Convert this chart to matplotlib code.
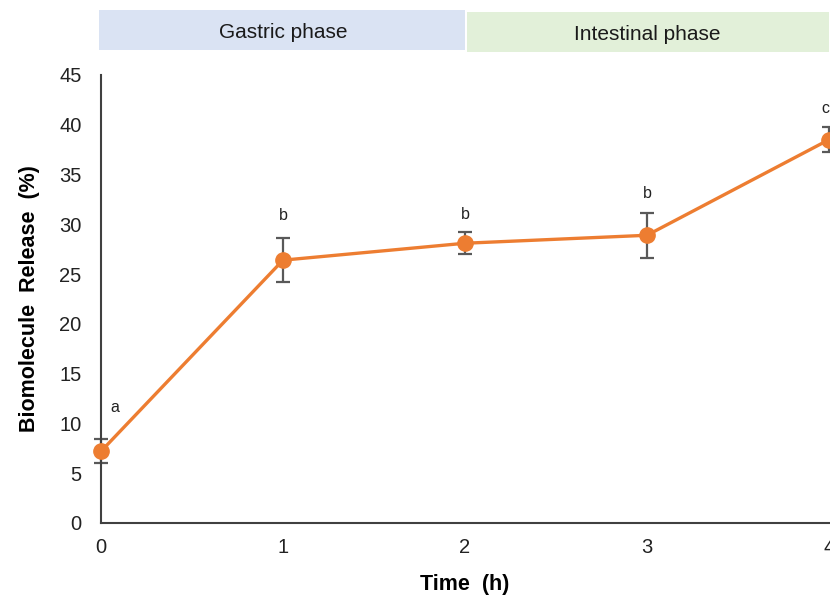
import matplotlib
matplotlib.use("Agg")
import matplotlib.pyplot as plt
import matplotlib.transforms as mtransforms
from matplotlib.patches import Rectangle

# data
time_h = [0, 1, 2, 3, 4]
release = [7.2, 26.4, 28.1, 28.9, 38.5]
release_sd = [1.2, 2.2, 1.1, 2.25, 1.25]
letters = ["a", "b", "b", "b", "c"]
letter_y = [11.6, 30.9, 31.0, 33.1, 41.6]
phases = [("Gastric phase", 0, 2), ("Intestinal phase", 2, 4)]
phase_colors = ["#DAE3F3", "#E2F0D9"]

plt.rcParams['font.family'] = ['Liberation Sans', 'DejaVu Sans']

fig = plt.figure(figsize=(8.3, 5.99), dpi=100)
ax = fig.add_axes([0.1217, 0.1269, 0.877, 0.7479])

ax.errorbar(time_h, release, yerr=release_sd, fmt='none', ecolor='#595959',
            elinewidth=1.6, capsize=5, capthick=1.6, zorder=2, clip_on=False)
ax.plot(time_h, release, color='#ED7D31', lw=2.4, marker='o', ms=11,
        zorder=3, clip_on=False)

# significance letters
for x, yl, l in zip(time_h, letter_y, letters):
    xt = x + 0.077 if x == 0 else x
    xt = x - 0.02 if x == 4 else xt
    ax.text(xt, yl, l, ha='center', va='center', fontsize=11.5, color='#222222')

# phase header boxes
tr = mtransforms.blended_transform_factory(ax.transData, ax.transAxes)
for i, ((name, x0, x1), c) in enumerate(zip(phases, phase_colors)):
    pad = 0.01 if x0 > 0 else -0.01
    y0 = 1.056 - 0.0045 * i
    ax.add_patch(Rectangle((x0 + pad, y0), x1 - x0 - pad, 0.089, transform=tr,
                           facecolor=c, edgecolor='none', clip_on=False))
    ax.text((x0 + x1) / 2, y0 + 0.039, name, transform=tr, ha='center', va='center',
            fontsize=15, color='#1a1a1a')

ax.set_xlim(0, 4)
ax.set_ylim(0, 45)
ax.set_xticks(time_h)
ax.set_yticks(range(0, 46, 5))
ax.tick_params(length=0, labelsize=14.5, colors='#222222')
ax.tick_params(axis='x', pad=11)
ax.tick_params(axis='y', pad=14)
for s in ['top', 'right']:
    ax.spines[s].set_visible(False)
for s in ['left', 'bottom']:
    ax.spines[s].set_color('#404040')
    ax.spines[s].set_linewidth(1.5)

ax.set_xlabel("Time  (h)", fontsize=15.5, fontweight='bold', labelpad=12)
ax.set_ylabel("Biomolecule  Release  (%)", fontsize=15.5, fontweight='bold', labelpad=14)

fig.savefig("out.png", dpi=100)
